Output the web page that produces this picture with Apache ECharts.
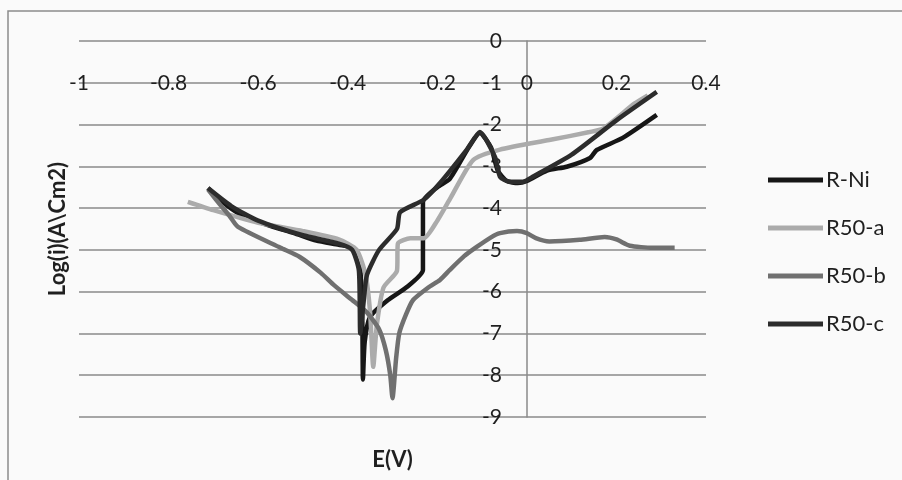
<!DOCTYPE html>
<html>
<head>
<meta charset="utf-8">
<script src="https://cdn.jsdelivr.net/npm/echarts@6/dist/echarts.min.js"></script>
<style>
html,body{margin:0;padding:0;background:#fafafa;}
#main{width:902px;height:480px;}
</style>
</head>
<body>
<div id="main"></div>
<script>
var chart = echarts.init(document.getElementById('main'));

var seriesNames = ['R-Ni', 'R50-a', 'R50-b', 'R50-c'];
var seriesColors = ['#161616', '#ababab', '#707070', '#2c2c2c'];

// E (V) and Log(i)
var riniE = [-0.712, -0.68, -0.64, -0.58, -0.52, -0.47, -0.42, -0.39, -0.375, -0.368, -0.366,
  -0.362, -0.35, -0.31, -0.268, -0.232, -0.232, -0.2, -0.172, -0.13, -0.105, -0.08, -0.065,
  -0.045, -0.02, 0.0, 0.045, 0.089, 0.141, 0.156, 0.214, 0.29];
var riniLog = [-3.52, -3.85, -4.15, -4.4, -4.6, -4.78, -4.88, -4.95, -5.25, -6.2, -8.1,
  -7.2, -6.6, -6.2, -5.89, -5.48, -3.85, -3.5, -3.3, -2.55, -2.2, -2.55, -3.1,
  -3.35, -3.4, -3.35, -3.1, -3.01, -2.8, -2.61, -2.32, -1.77];

var r50aE = [-0.757, -0.7, -0.6, -0.5, -0.42, -0.38, -0.36, -0.35, -0.343, -0.335, -0.32,
  -0.29, -0.288, -0.26, -0.23, -0.2, -0.17, -0.12, -0.06, 0.05, 0.14, 0.17, 0.24, 0.27];
var r50aLog = [-3.85, -4.05, -4.35, -4.55, -4.75, -5.0, -5.6, -6.5, -7.8, -6.8, -5.9,
  -5.5, -4.85, -4.72, -4.72, -4.3, -3.75, -2.85, -2.6, -2.37, -2.18, -2.1, -1.5, -1.3];

var r50bE = [-0.712, -0.69, -0.663, -0.645, -0.55, -0.507, -0.46, -0.43, -0.39, -0.357, -0.33,
  -0.315, -0.305, -0.3, -0.292, -0.285, -0.27, -0.254, -0.22, -0.194, -0.172, -0.14, -0.112,
  -0.08, -0.06, -0.022, 0.0, 0.02, 0.05, 0.118, 0.174, 0.2, 0.23, 0.28, 0.33];
var r50bLog = [-3.55, -3.85, -4.2, -4.45, -4.95, -5.17, -5.55, -5.85, -6.2, -6.5, -6.9,
  -7.4, -8.0, -8.55, -7.6, -7.0, -6.55, -6.2, -5.9, -5.72, -5.48, -5.15, -4.93,
  -4.7, -4.6, -4.55, -4.6, -4.72, -4.8, -4.76, -4.69, -4.75, -4.9, -4.95, -4.95];

var r50cE = [-0.712, -0.66, -0.6, -0.5, -0.42, -0.39, -0.375, -0.372, -0.365, -0.357, -0.33,
  -0.29, -0.283, -0.23, -0.194, -0.134, -0.105, -0.071, -0.06, -0.038, -0.009, 0.013, 0.1,
  0.2, 0.29];
var r50cLog = [-3.52, -3.95, -4.3, -4.65, -4.85, -5.0, -5.5, -7.0, -6.3, -5.6, -5.0,
  -4.5, -4.1, -3.8, -3.4, -2.6, -2.18, -2.78, -3.25, -3.37, -3.37, -3.25, -2.72,
  -1.9, -1.22];

var eTicks = [-1, 0.4, 0.2];   // min, max, step
var logTicks = [-9, 0, 1];

function pairs(xs, ys) {
  return xs.map(function (x, i) { return [x, ys[i]]; });
}
var allData = [pairs(riniE, riniLog), pairs(r50aE, r50aLog), pairs(r50bE, r50bLog), pairs(r50cE, r50cLog)];

var legendTops = [164, 212, 260, 308];
var legends = seriesNames.map(function (n, i) {
  return {
    data: [n],
    left: 763,
    top: legendTops[i],
    icon: 'rect',
    itemWidth: 55,
    itemHeight: 5,
    itemGap: 0,
    textStyle: {fontFamily: 'Lato', fontSize: 22, color: '#1f1f1f', padding: [0, 0, 0, -2]},
    selectedMode: false
  };
});

var option = {
  backgroundColor: '#fafafa',
  animation: false,
  legend: legends,
  graphic: [{
    type: 'rect',
    shape: {x: 8, y: 11, width: 1000, height: 600},
    style: {fill: null, stroke: '#8c8c8c', lineWidth: 1.5},
    silent: true
  }],
  grid: {left: 79, right: 196, top: 41, bottom: 63},
  xAxis: {
    type: 'value',
    min: eTicks[0], max: eTicks[1], interval: eTicks[2],
    position: 'top',
    offset: -41.8,
    name: 'E(V)',
    nameLocation: 'middle',
    nameGap: -388,
    nameTextStyle: {fontFamily: 'Lato', fontWeight: 'bold', fontSize: 22, color: '#1f1f1f'},
    axisLine: {show: false, onZero: false},
    axisTick: {show: false},
    splitLine: {show: false},
    axisLabel: {
      fontFamily: 'Lato', fontSize: 21, color: '#1f1f1f',
      verticalAlign: 'middle', margin: 0,
      formatter: function (v) { return String(parseFloat(v.toFixed(1))); }
    }
  },
  yAxis: {
    type: 'value',
    min: logTicks[0], max: logTicks[1], interval: logTicks[2],
    position: 'left',
    offset: -448,
    name: 'Log(i)(A\\Cm2)',
    nameLocation: 'middle',
    nameGap: 458,
    nameRotate: 90,
    nameTextStyle: {fontFamily: 'Lato', fontWeight: 'bold', fontSize: 22, color: '#1f1f1f'},
    axisLine: {show: true, onZero: false, lineStyle: {color: '#8a8a8a', width: 1.5}},
    axisTick: {show: false},
    axisLabel: {fontFamily: 'Lato', fontSize: 21, color: '#1f1f1f', margin: 25},
    splitLine: {show: true, lineStyle: {color: '#8a8a8a', width: 1.5}}
  },
  series: seriesNames.map(function (n, i) {
    return {
      name: n,
      type: 'line',
      data: allData[i],
      showSymbol: false,
      symbol: 'none',
      smooth: 0.2,
      color: seriesColors[i],
      lineStyle: {color: seriesColors[i], width: 4.5}
    };
  })
};

chart.setOption(option);
</script>
</body>
</html>
